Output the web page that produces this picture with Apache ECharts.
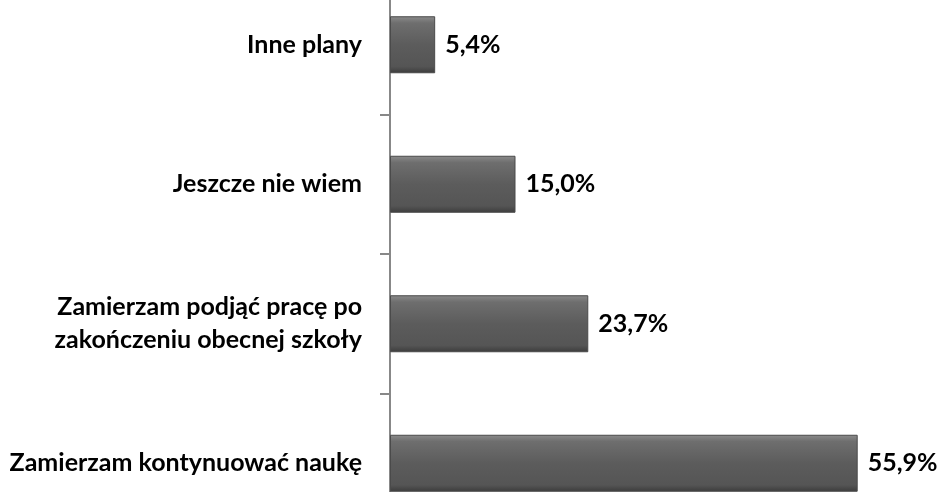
<!DOCTYPE html>
<html>
<head>
<meta charset="UTF-8">
<title>plany</title>
<script src="https://cdn.jsdelivr.net/npm/echarts@6/dist/echarts.min.js"></script>
<style>
  html, body { margin: 0; padding: 0; background: #fff; }
  #main { width: 937px; height: 492px; }
</style>
</head>
<body>
<div id="main"></div>
<script type="text/javascript">
    var categories = ['Inne plany', 'Jeszcze nie wiem', 'Zamierzam podjąć pracę po\nzakończeniu obecnej szkoły', 'Zamierzam kontynuować naukę'];
    var values = [5.4, 15.0, 23.7, 55.9];

    var myChart = echarts.init(document.getElementById('main'));

    // szary pasek z jasniejsza gorna krawedzia
    var barColor = new echarts.graphic.LinearGradient(0, 0, 0, 1, [
        { offset: 0, color: '#8c8c8c' },
        { offset: 0.12, color: '#6e6e6e' },
        { offset: 0.5, color: '#5c5c5c' },
        { offset: 0.88, color: '#555555' },
        { offset: 1, color: '#3c3c3c' }
    ]);

    var option = {
        animation: false,
        grid: { left: 390, width: 502, top: -25, height: 558, outerBoundsMode: 'none', containLabel: false },
        xAxis: {
            type: 'value',
            min: 0,
            max: 60,
            show: false
        },
        yAxis: {
            type: 'category',
            inverse: true,
            data: categories,
            axisLine: { show: true, lineStyle: { color: '#888888', width: 2 } },
            axisTick: { show: true, length: 10, lineStyle: { color: '#888888', width: 2 } },
            axisLabel: {
                margin: 28,
                color: '#000',
                fontFamily: 'Lato',
                fontWeight: 'bold',
                fontSize: 25,
                lineHeight: 33,
                align: 'right'
            }
        },
        series: [{
            type: 'bar',
            data: values,
            barWidth: 57,
            itemStyle: { color: barColor, borderColor: '#4a4a4a', borderWidth: 1 },
            label: {
                show: true,
                position: 'right',
                distance: 10,
                color: '#000',
                fontFamily: 'Lato',
                fontWeight: 'bold',
                fontSize: 25,
                formatter: function (p) { return p.value.toFixed(1).replace('.', ',') + '%'; }
            }
        }]
    };

    myChart.setOption(option);
</script>
</body>
</html>
